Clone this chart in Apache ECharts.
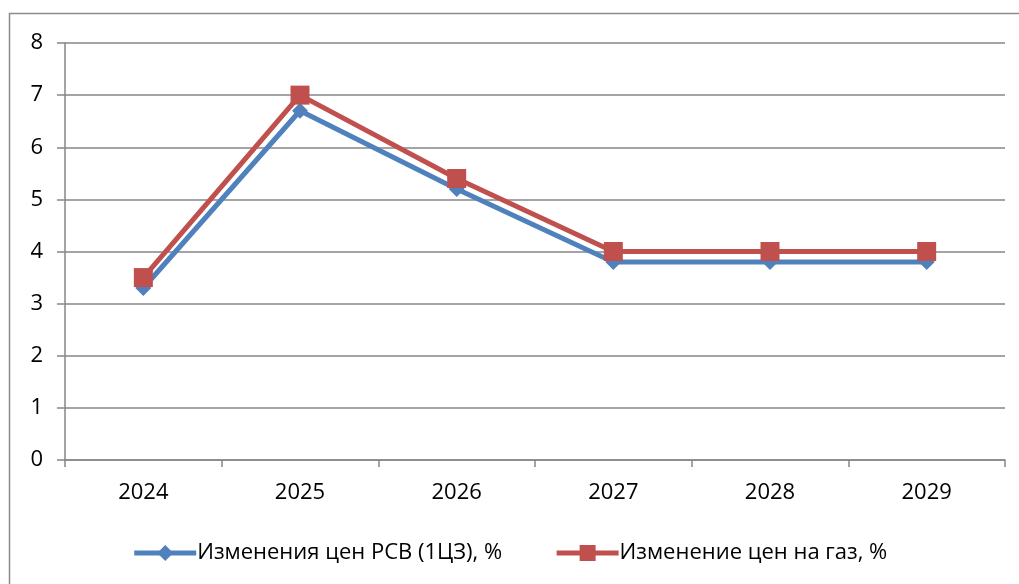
<!DOCTYPE html>
<html><head><meta charset="utf-8">
<script src="https://cdn.jsdelivr.net/npm/echarts@6/dist/echarts.min.js"></script>
<style>html,body{margin:0;padding:0;background:#fff}#c{width:1019px;height:584px}</style>
</head><body><div id="c"></div>
<script>
const categories = ['2024','2025','2026','2027','2028','2029'];
const rsvValues = [3.3, 6.7, 5.2, 3.8, 3.8, 3.8];
const gasValues = [3.5, 7.0, 5.4, 4.0, 4.0, 4.0];
const seriesNames = ['Изменения цен РСВ (1ЦЗ), %', 'Изменение цен на газ, %'];
const yTicks = [0, 8, 1];

const font = '"Open Sans", sans-serif';
const chart = echarts.init(document.getElementById('c'));
chart.setOption({
  animation: false,
  textStyle: {fontFamily: font},
  graphic: [{type:'rect', shape:{x:9.5, y:13.5, width:1020, height:580}, style:{fill:'none', stroke:'#8c8c8c', lineWidth:1.5}, silent:true}],
  grid: {left: 65, right: 14, top: 43, bottom: 124},
  legend: {
    top: 537, left: 'center', itemWidth: 62, itemHeight: 20, itemGap: 52,
    lineStyle: {width: 5},
    textStyle: {fontSize: 22, color: '#000', fontFamily: font, padding: [0,0,0,-4]},
    data: [seriesNames[0], seriesNames[1]]
  },
  xAxis: {
    type: 'category', data: categories, boundaryGap: true,
    axisLine: {lineStyle: {color: '#868686', width: 1.5}},
    axisTick: {show: true, length: 7, interval: 0, alignWithLabel: false, lineStyle: {color: '#868686', width: 1.5}},
    axisLabel: {fontSize: 22, color: '#000', margin: 22, fontFamily: font}
  },
  yAxis: {
    type: 'value', min: yTicks[0], max: yTicks[1], interval: yTicks[2],
    axisLine: {show: true, lineStyle: {color: '#868686', width: 1.5}},
    axisTick: {show: true, length: 8, lineStyle: {color: '#868686', width: 1.5}},
    splitLine: {lineStyle: {color: '#868686', width: 1.5}},
    axisLabel: {fontSize: 22, color: '#000', margin: 22, fontFamily: font}
  },
  series: [
    {name: seriesNames[0], type: 'line', data: rsvValues, symbol: 'diamond', symbolSize: 16,
     lineStyle: {color: '#4F81BD', width: 5}, itemStyle: {color: '#4F81BD'}},
    {name: seriesNames[1], type: 'line', data: gasValues, symbol: 'rect', symbolSize: 19,
     lineStyle: {color: '#C0504D', width: 5}, itemStyle: {color: '#C0504D'}}
  ]
});
</script></body></html>
